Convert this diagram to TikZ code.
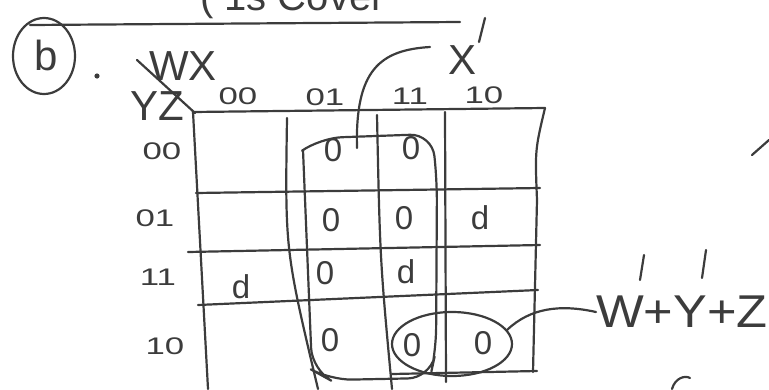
\documentclass[tikz,border=0pt]{standalone}
\usepackage{fontspec}
\setmainfont{Liberation Sans}
\usetikzlibrary{shapes.geometric}
\definecolor{ink}{RGB}{60,60,60}
\newcommand{\wide}[1]{\scalebox{1.45}[1]{#1}}
\begin{document}
\begin{tikzpicture}[x=1pt,y=-1pt,
  pen/.style={draw=ink,line width=2.2pt,line cap=round,line join=round},
  txt/.style={text=ink,inner sep=0pt,anchor=center},
  cellv/.style={txt,font=\fontsize{33}{33}\selectfont},
  hdr/.style={txt,font=\fontsize{24}{24}\selectfont},
  big/.style={txt,font=\fontsize{42}{42}\selectfont}]
\useasboundingbox (0,0) rectangle (769,389);
\clip (0,0) rectangle (769,389);
% clipped top text
\node[txt,font=\fontsize{40}{40}\selectfont,anchor=base west] (toptext) at (200,10) {( 1s Cover};
% top rule
\draw[pen] (30,25) -- (460,22);
% (b).
\node[big] (b) at (46,55) {b};
\draw[pen] (44,56) ellipse (31 and 38);
\fill[ink] (97,76) circle (2.6);
% corner labels
\node[big] (wx) at (183,66) {WX};
\node[big] (yz) at (157,106) {YZ};
\draw[pen] (137,60) -- (195,113);
% column labels
\node[hdr] (c00) at (238,96) {\wide{00}};
\node[hdr] (c01) at (325,97) {\wide{01}};
\node[hdr] (c11) at (410,96) {\wide{11}};
\node[hdr] (c10) at (484,95) {\wide{10}};
% row labels
\node[hdr] (r00) at (162,151) {\wide{00}};
\node[hdr] (r01) at (155,218) {\wide{01}};
\node[hdr] (r11) at (158,277) {\wide{11}};
\node[hdr] (r10) at (165,346) {\wide{10}};
% grid
\draw[pen] (193,112) -- (545,108);
\draw[pen] (196,193) -- (540,188);
\draw[pen] (188,252) -- (540,245);
\draw[pen] (198,305) -- (538,290);
\draw[pen] (392,374) -- (537,371);
\draw[pen] (193,112) -- (208,389);
\draw[pen] (287,118) .. controls (285,250) .. (318,389);
\draw[pen] (377,115) .. controls (380,260) .. (392,389);
\draw[pen] (445,112) -- (446,382);
\draw[pen] (545,108) .. controls (535,150) .. (537,200) -- (533,372);
% cell values
\node[cellv] (a1) at (333,150) {0};
\node[cellv] (a2) at (411,148) {0};
\node[cellv] (b1) at (331,220) {0};
\node[cellv] (b2) at (404,218) {0};
\node[cellv] (b3) at (480,218) {d};
\node[cellv] (d1) at (241,287) {d};
\node[cellv] (d2) at (325,273) {0};
\node[cellv] (d3) at (406,272) {d};
\node[cellv] (e1) at (330,340) {0};
\node[cellv] (e2) at (412,345) {0};
\node[cellv] (e3) at (483,343) {0};
% group X'
\draw[pen,rounded corners=22pt] (303,150) -- (320,138) -- (432,134) -- (437,180) -- (436,350) -- (430,378) -- (330,380) -- (312,370) -- (303,150);
\node[big] (xl) at (463,60) {X};
\draw[pen] (485,18) -- (479,42);
\coordinate (xs) at (357,148);
\draw[pen] (xs) .. controls (355,70) and (380,50) .. (430,47);
% group w'+y'+z
\draw[pen] (452,344) ellipse (60 and 32);
\node[txt,font=\fontsize{46}{46}\selectfont,anchor=west] (eq) at (596,312) {\scalebox{1.1}[1]{W+Y+Z}};
\draw[pen] (644,255) -- (640,280);
\draw[pen] (706,250) -- (702,278);
\draw[pen] (507,330) .. controls (530,308) and (560,304) .. (eq.west);
% stray strokes
\draw[pen] (752,155) -- (769,140);
\draw[pen] (672,389) .. controls (675,378) and (685,375) .. (690,378);
\end{tikzpicture}
\end{document}
